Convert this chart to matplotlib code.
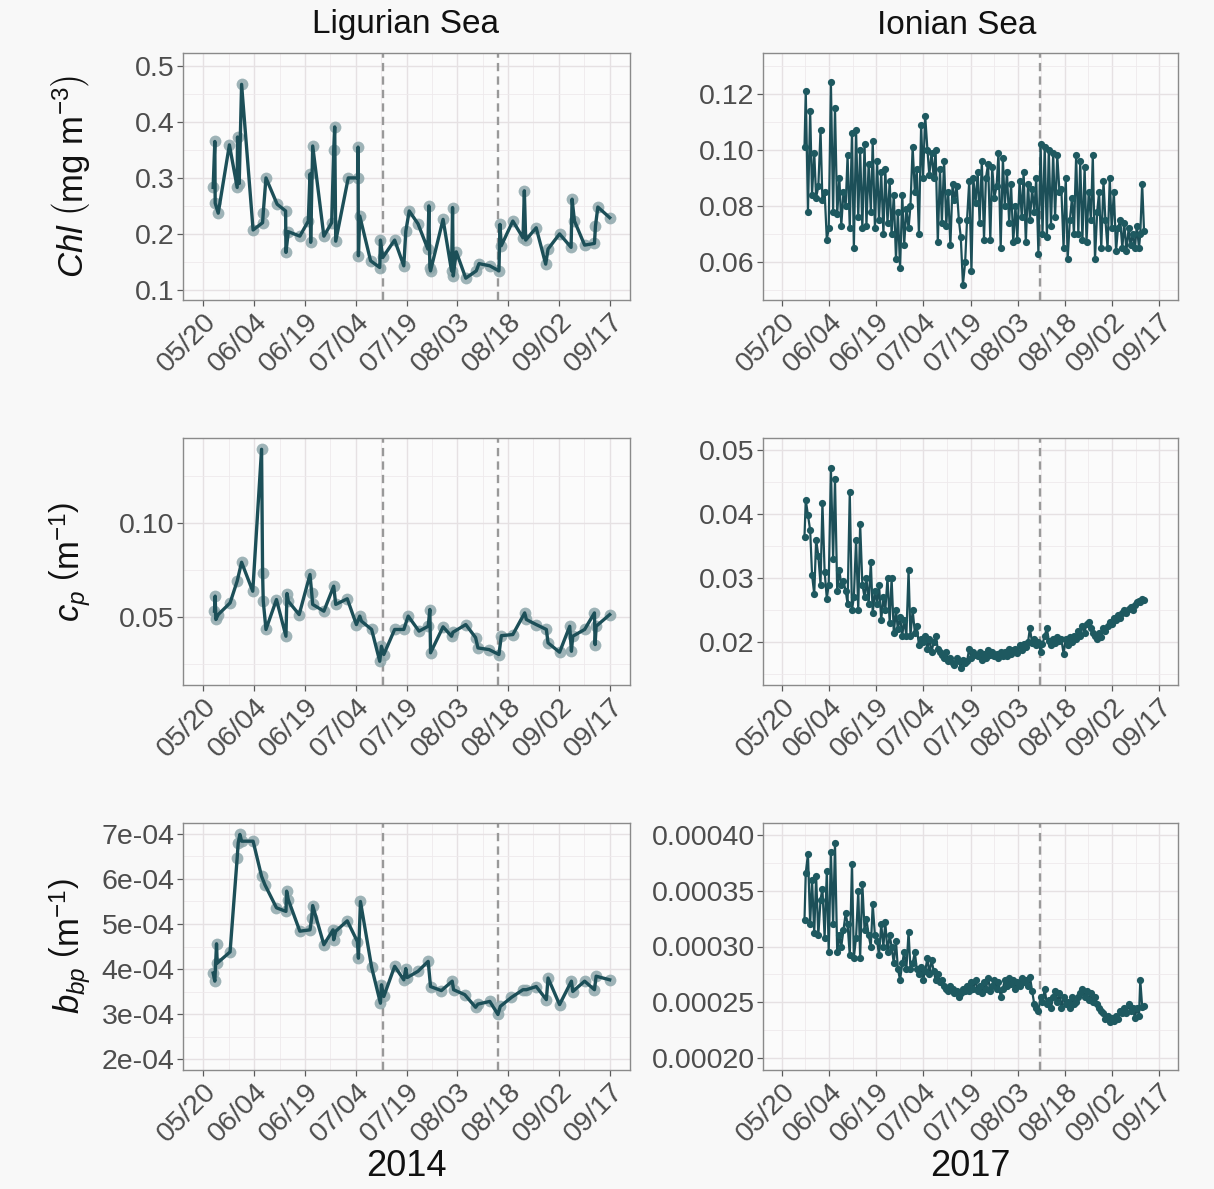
import numpy as np
import matplotlib
matplotlib.use('Agg')
import matplotlib.pyplot as plt

plt.rcParams['font.family'] = ['Liberation Sans', 'DejaVu Sans']
plt.rcParams['mathtext.fontset'] = 'custom'
plt.rcParams['mathtext.rm'] = 'Liberation Sans'
plt.rcParams['mathtext.it'] = 'Liberation Sans:italic'

# x axis: days since 20 May
date_ticks = [0, 15, 30, 45, 60, 75, 90, 105, 120]
date_labels = ['05/20', '06/04', '06/19', '07/04', '07/19', '08/03', '08/18', '09/02', '09/17']

# Ligurian Sea, 2014
lig_events = [53, 87]

chl_lig_day = [2.9, 3.4, 3.5, 4.4, 7.7, 10.0, 10.1, 10.6, 11.3, 14.7,
               17.5, 17.7, 18.5, 21.8, 24.3, 24.4, 25.1, 28.5, 31.0, 31.5,
               31.7, 32.3, 35.6, 37.9, 38.5, 38.8, 39.1, 42.8, 45.6, 45.7,
               45.8, 46.2, 49.4, 52.1, 52.3, 53.0, 56.5, 59.2, 59.8, 60.8,
               63.4, 66.3, 66.6, 66.9, 67.1, 70.8, 73.3, 73.6, 73.8, 74.7,
               77.5, 80.6, 81.4, 84.6, 87.3, 87.6, 88.0, 91.4, 94.4, 94.8,
               95.2, 98.3, 101.1, 101.8, 105.2, 108.6, 108.9, 109.6, 112.6, 115.5,
               115.8, 116.5, 120.0]
chl_lig = [0.283, 0.365, 0.255, 0.237, 0.359, 0.283, 0.373, 0.290, 0.467, 0.207,
           0.220, 0.238, 0.300, 0.253, 0.241, 0.167, 0.204, 0.196, 0.223, 0.307,
           0.185, 0.357, 0.196, 0.220, 0.349, 0.391, 0.187, 0.300, 0.300, 0.355,
           0.161, 0.232, 0.152, 0.140, 0.189, 0.158, 0.189, 0.143, 0.205, 0.241,
           0.218, 0.173, 0.250, 0.140, 0.134, 0.226, 0.134, 0.247, 0.125, 0.168,
           0.121, 0.134, 0.147, 0.143, 0.134, 0.217, 0.179, 0.223, 0.193, 0.277,
           0.189, 0.211, 0.146, 0.173, 0.200, 0.176, 0.262, 0.223, 0.180, 0.183,
           0.214, 0.248, 0.229]

cp_lig_day = [3.3, 3.5, 3.7, 4.4, 7.9, 10.0, 11.3, 14.6, 17.2, 17.5,
              17.7, 18.5, 21.6, 24.4, 24.7, 25.1, 28.3, 31.5, 32.0, 32.3,
              35.6, 38.5, 39.1, 42.5, 45.2, 46.2, 46.7, 49.7, 52.1, 52.6,
              53.3, 56.5, 59.2, 60.5, 63.7, 66.4, 66.9, 67.1, 70.8, 73.3,
              73.7, 77.5, 80.4, 81.1, 84.4, 87.3, 88.0, 91.4, 94.9, 95.4,
              98.3, 101.3, 101.8, 105.2, 108.2, 108.7, 109.1, 112.6, 115.5, 115.7,
              116.0, 120.0]
cp_lig = [0.0530, 0.0610, 0.0486, 0.0512, 0.0574, 0.0690, 0.0790, 0.0636, 0.1390, 0.0734,
          0.0583, 0.0433, 0.0592, 0.0397, 0.0624, 0.0583, 0.0512, 0.0725, 0.0628, 0.0566,
          0.0530, 0.0663, 0.0566, 0.0596, 0.0459, 0.0504, 0.0477, 0.0433, 0.0264, 0.0344,
          0.0300, 0.0433, 0.0433, 0.0504, 0.0424, 0.0450, 0.0539, 0.0309, 0.0447, 0.0397,
          0.0418, 0.0459, 0.0390, 0.0335, 0.0326, 0.0300, 0.0400, 0.0406, 0.0521, 0.0486,
          0.0459, 0.0433, 0.0362, 0.0312, 0.0450, 0.0317, 0.0397, 0.0433, 0.0521, 0.0353,
          0.0450, 0.0512]

bbp_lig_day = [2.9, 3.4, 3.9, 4.1, 7.9, 10.0, 10.3, 10.8, 11.3, 14.7,
               17.2, 18.2, 21.6, 24.4, 24.6, 25.1, 28.5, 31.5, 32.0, 32.3,
               35.6, 38.3, 38.5, 39.1, 42.5, 45.5, 45.8, 46.4, 49.7, 52.3,
               52.6, 53.3, 56.5, 59.2, 59.8, 60.2, 63.4, 66.4, 67.1, 70.3,
               73.5, 73.9, 77.2, 80.4, 81.1, 84.6, 87.0, 87.7, 91.0, 94.4,
               95.4, 98.3, 101.3, 101.8, 105.2, 108.7, 109.1, 112.6, 115.5, 116.0,
               120.0]
# bbp in units of 1e-4 m^-1
bbp_lig = [3.91, 3.73, 4.56, 4.13, 4.38, 6.47, 6.80, 6.99, 6.84, 6.84,
           6.06, 5.87, 5.36, 5.28, 5.73, 5.54, 4.84, 4.87, 5.13, 5.41,
           4.54, 4.87, 4.65, 4.84, 5.07, 4.61, 4.24, 5.50, 4.04, 3.24,
           3.65, 3.39, 4.06, 3.76, 4.01, 3.81, 3.95, 4.17, 3.61, 3.52,
           3.73, 3.54, 3.43, 3.15, 3.22, 3.28, 2.99, 3.17, 3.37, 3.54,
           3.54, 3.61, 3.32, 3.80, 3.21, 3.73, 3.50, 3.73, 3.54, 3.84,
           3.76]

# Ionian Sea, 2017 (one profile time series shared by the three variables)
ion_events = [82]

ion_day = [7.2, 7.6, 8.3, 9.0, 9.6, 10.3, 10.9, 11.6, 12.3, 12.9,
           13.6, 14.3, 14.9, 15.6, 16.3, 16.9, 17.6, 18.3, 18.9, 19.6,
           20.3, 20.9, 21.6, 22.3, 22.9, 23.6, 24.3, 24.9, 25.6, 26.3,
           26.9, 27.6, 28.3, 28.9, 29.6, 30.3, 30.9, 31.6, 32.3, 32.9,
           33.6, 34.3, 34.9, 35.6, 36.3, 36.9, 37.6, 38.3, 38.9, 39.6,
           40.3, 40.9, 41.6, 42.3, 42.9, 43.6, 44.3, 44.9, 45.6, 46.3,
           46.9, 47.6, 48.3, 48.9, 49.6, 50.3, 50.9, 51.6, 52.3, 52.9,
           53.6, 54.3, 54.9, 55.6, 56.3, 56.9, 57.6, 58.3, 58.9, 59.6,
           60.3, 60.9, 61.6, 62.3, 62.9, 63.6, 64.3, 64.9, 65.6, 66.3,
           66.9, 67.6, 68.3, 68.9, 69.6, 70.3, 70.9, 71.6, 72.3, 72.9,
           73.6, 74.3, 74.9, 75.6, 76.3, 76.9, 77.6, 78.3, 78.9, 79.6,
           80.3, 80.9, 81.6, 82.3, 82.9, 83.6, 84.3, 84.9, 85.6, 86.3,
           86.9, 87.6, 88.3, 88.9, 89.6, 90.3, 90.9, 91.6, 92.3, 92.9,
           93.6, 94.3, 94.9, 95.6, 96.3, 96.9, 97.6, 98.3, 98.9, 99.6,
           100.3, 100.9, 101.6, 102.3, 102.9, 103.6, 104.3, 104.9, 105.6, 106.3,
           106.9, 107.6, 108.3, 108.9, 109.6, 110.3, 110.9, 111.6, 112.3, 112.9,
           113.6, 114.0, 114.6, 115.2]

chl_ion = [0.101, 0.121, 0.078, 0.114, 0.084, 0.099, 0.083, 0.087, 0.107, 0.082,
           0.085, 0.068, 0.072, 0.124, 0.078, 0.115, 0.077, 0.090, 0.073, 0.085,
           0.080, 0.098, 0.072, 0.106, 0.065, 0.107, 0.076, 0.100, 0.072, 0.102,
           0.073, 0.095, 0.078, 0.103, 0.072, 0.096, 0.075, 0.092, 0.070, 0.093,
           0.074, 0.089, 0.070, 0.084, 0.061, 0.078, 0.058, 0.084, 0.066, 0.079,
           0.072, 0.080, 0.101, 0.085, 0.093, 0.070, 0.109, 0.090, 0.112, 0.100,
           0.091, 0.099, 0.090, 0.100, 0.067, 0.093, 0.074, 0.096, 0.073, 0.085,
           0.066, 0.088, 0.082, 0.087, 0.075, 0.069, 0.052, 0.060, 0.075, 0.089,
           0.057, 0.090, 0.081, 0.092, 0.074, 0.096, 0.068, 0.090, 0.095, 0.068,
           0.094, 0.083, 0.087, 0.099, 0.065, 0.097, 0.080, 0.092, 0.074, 0.088,
           0.067, 0.080, 0.068, 0.089, 0.076, 0.092, 0.067, 0.088, 0.075, 0.086,
           0.078, 0.090, 0.063, 0.102, 0.070, 0.101, 0.069, 0.100, 0.073, 0.099,
           0.076, 0.098, 0.085, 0.086, 0.065, 0.090, 0.061, 0.075, 0.083, 0.070,
           0.098, 0.070, 0.096, 0.068, 0.094, 0.067, 0.085, 0.075, 0.098, 0.061,
           0.078, 0.085, 0.065, 0.089, 0.075, 0.065, 0.090, 0.072, 0.085, 0.064,
           0.072, 0.075, 0.065, 0.074, 0.064, 0.072, 0.066, 0.070, 0.065, 0.073,
           0.065, 0.070, 0.088, 0.071]

cp_ion = [0.0365, 0.0422, 0.0398, 0.0375, 0.0305, 0.0275, 0.0360, 0.0335, 0.0290, 0.0418,
          0.0310, 0.0268, 0.0290, 0.0472, 0.0330, 0.0455, 0.0280, 0.0312, 0.0290, 0.0295,
          0.0280, 0.0260, 0.0435, 0.0250, 0.0270, 0.0360, 0.0250, 0.0385, 0.0290, 0.0270,
          0.0300, 0.0260, 0.0325, 0.0245, 0.0280, 0.0260, 0.0290, 0.0235, 0.0270, 0.0250,
          0.0300, 0.0230, 0.0300, 0.0215, 0.0250, 0.0220, 0.0240, 0.0210, 0.0235, 0.0210,
          0.0312, 0.0210, 0.0250, 0.0215, 0.0225, 0.0195, 0.0205, 0.0200, 0.0210, 0.0190,
          0.0205, 0.0185, 0.0200, 0.0210, 0.0190, 0.0185, 0.0180, 0.0175, 0.0185, 0.0170,
          0.0175, 0.0168, 0.0165, 0.0175, 0.0170, 0.0160, 0.0172, 0.0168, 0.0170, 0.0190,
          0.0175, 0.0185, 0.0180, 0.0178, 0.0185, 0.0172, 0.0182, 0.0175, 0.0188, 0.0180,
          0.0185, 0.0178, 0.0182, 0.0175, 0.0185, 0.0178, 0.0185, 0.0178, 0.0190, 0.0182,
          0.0187, 0.0190, 0.0183, 0.0195, 0.0188, 0.0197, 0.0192, 0.0200, 0.0222, 0.0198,
          0.0205, 0.0195, 0.0200, 0.0185, 0.0197, 0.0210, 0.0222, 0.0202, 0.0196, 0.0205,
          0.0198, 0.0208, 0.0202, 0.0205, 0.0182, 0.0205, 0.0195, 0.0208, 0.0200, 0.0210,
          0.0205, 0.0218, 0.0210, 0.0225, 0.0215, 0.0228, 0.0232, 0.0222, 0.0215, 0.0210,
          0.0205, 0.0215, 0.0208, 0.0222, 0.0218, 0.0225, 0.0232, 0.0228, 0.0238, 0.0235,
          0.0242, 0.0238, 0.0245, 0.0250, 0.0245, 0.0252, 0.0255, 0.0250, 0.0258, 0.0262,
          0.0265, 0.0262, 0.0268, 0.0266]

# bbp in units of 1e-4 m^-1
bbp_ion = [3.24, 3.66, 3.83, 3.20, 3.60, 3.12, 3.63, 3.10, 3.42, 3.52,
           3.08, 3.68, 2.95, 3.85, 3.20, 3.93, 2.95, 3.10, 3.00, 3.15,
           3.30, 3.20, 2.92, 3.74, 2.90, 3.08, 3.50, 2.90, 3.56, 3.15,
           3.25, 3.10, 3.00, 3.38, 3.10, 3.05, 2.92, 3.20, 3.00, 3.22,
           2.95, 3.10, 3.00, 2.85, 3.05, 2.80, 2.70, 2.85, 2.95, 2.80,
           3.13, 2.80, 2.85, 2.95, 2.80, 2.75, 2.82, 2.70, 2.78, 2.90,
           2.75, 2.88, 2.78, 2.70, 2.75, 2.68, 2.70, 2.65, 2.62, 2.60,
           2.65, 2.62, 2.58, 2.60, 2.55, 2.58, 2.62, 2.60, 2.65, 2.60,
           2.68, 2.62, 2.70, 2.60, 2.65, 2.58, 2.68, 2.62, 2.72, 2.60,
           2.65, 2.70, 2.62, 2.68, 2.55, 2.62, 2.70, 2.65, 2.72, 2.66,
           2.70, 2.62, 2.68, 2.65, 2.72, 2.68, 2.70, 2.65, 2.73, 2.60,
           2.48, 2.45, 2.42, 2.55, 2.50, 2.62, 2.48, 2.52, 2.45, 2.55,
           2.60, 2.50, 2.58, 2.45, 2.55, 2.48, 2.50, 2.45, 2.55, 2.48,
           2.50, 2.55, 2.58, 2.62, 2.55, 2.60, 2.52, 2.58, 2.50, 2.55,
           2.48, 2.45, 2.42, 2.40, 2.35, 2.38, 2.32, 2.36, 2.33, 2.38,
           2.35, 2.42, 2.40, 2.45, 2.40, 2.48, 2.42, 2.45, 2.36, 2.45,
           2.38, 2.70, 2.46, 2.47]

# y axes: limits, ticks and tick labels per panel
chl_lig_lim, chl_lig_ticks = (0.082, 0.523), [0.1, 0.2, 0.3, 0.4, 0.5]
chl_lig_labels = ['0.1', '0.2', '0.3', '0.4', '0.5']
chl_ion_lim, chl_ion_ticks = (0.0465, 0.1345), [0.06, 0.08, 0.10, 0.12]
chl_ion_labels = ['0.06', '0.08', '0.10', '0.12']
cp_lig_lim, cp_lig_ticks = (0.0138, 0.145), [0.05, 0.10]
cp_lig_labels = ['0.05', '0.10']
cp_ion_lim, cp_ion_ticks = (0.0133, 0.0519), [0.02, 0.03, 0.04, 0.05]
cp_ion_labels = ['0.02', '0.03', '0.04', '0.05']
bbp_lig_lim, bbp_lig_ticks = (1.756e-4, 7.244e-4), [2e-4, 3e-4, 4e-4, 5e-4, 6e-4, 7e-4]
bbp_lig_labels = ['2e-04', '3e-04', '4e-04', '5e-04', '6e-04', '7e-04']
bbp_ion_lim, bbp_ion_ticks = (1.892e-4, 4.108e-4), [2e-4, 2.5e-4, 3e-4, 3.5e-4, 4e-4]
bbp_ion_labels = ['0.00020', '0.00025', '0.00030', '0.00035', '0.00040']

LINE = '#1c4f58'
HALO = '#8ea7ab'
DOT = '#1e5960'
TICK_TXT = '#4d4d4d'


def style_axes(ax, ylim, yticks, ylabels):
    ax.set_facecolor('#fbfbfb')
    ax.set_xlim(-6, 126)
    ax.set_ylim(*ylim)
    ax.set_xticks(date_ticks)
    ax.set_xticklabels(date_labels, rotation=45, ha='right', va='top',
                       rotation_mode='anchor')
    ax.set_xticks([d + 7.5 for d in date_ticks[:-1]], minor=True)
    ax.set_yticks(yticks)
    ax.set_yticklabels(ylabels)
    step = yticks[1] - yticks[0]
    minor = [yticks[0] - step / 2] + [t + step / 2 for t in yticks]
    ax.set_yticks([m for m in minor if ylim[0] < m < ylim[1]], minor=True)
    ax.grid(which='major', color='#e6e1e3', lw=1.0)
    ax.grid(which='minor', color='#eeeaec', lw=0.6)
    ax.set_axisbelow(True)
    ax.tick_params(which='major', length=4, width=0.9, color='#5a5a5a',
                   labelsize=20.5, labelcolor=TICK_TXT, pad=2)
    ax.tick_params(which='minor', length=0)
    for s in ax.spines.values():
        s.set_color('#8a8a8a')
        s.set_linewidth(1.0)


def ligurian(ax, day, val):
    ax.plot(day, val, 'o', ms=8.5, color=HALO, alpha=0.85, mec='none', zorder=2)
    ax.plot(day, val, '-', lw=2.4, color=LINE, zorder=3)
    for d in lig_events:
        ax.axvline(d, color='#999999', lw=1.7, ls=(0, (3.5, 2.2)), zorder=1.5)


def ionian(ax, day, val):
    ax.plot(day, val, '-', lw=1.6, color=LINE, zorder=3)
    ax.plot(day, val, 'o', ms=5.2, color=DOT, mec='none', zorder=4)
    for d in ion_events:
        ax.axvline(d, color='#999999', lw=1.7, ls=(0, (3.5, 2.2)), zorder=1.5)


fig = plt.figure(figsize=(12.14, 11.89), dpi=100, facecolor='#f8f8f8')

W, H = 1214, 1189
rows = [(53, 300), (438, 685), (823, 1070)]
left_cols = (183, 630)
right_cols = (763, 1178)


def add_ax(cols, row):
    return fig.add_axes([cols[0] / W, 1 - row[1] / H,
                         (cols[1] - cols[0]) / W, (row[1] - row[0]) / H])


ax = add_ax(left_cols, rows[0])
style_axes(ax, chl_lig_lim, chl_lig_ticks, chl_lig_labels)
ligurian(ax, chl_lig_day, chl_lig)

ax = add_ax(right_cols, rows[0])
style_axes(ax, chl_ion_lim, chl_ion_ticks, chl_ion_labels)
ionian(ax, ion_day, chl_ion)

ax = add_ax(left_cols, rows[1])
style_axes(ax, cp_lig_lim, cp_lig_ticks, cp_lig_labels)
ligurian(ax, cp_lig_day, cp_lig)

ax = add_ax(right_cols, rows[1])
style_axes(ax, cp_ion_lim, cp_ion_ticks, cp_ion_labels)
ionian(ax, ion_day, cp_ion)

ax = add_ax(left_cols, rows[2])
style_axes(ax, bbp_lig_lim, bbp_lig_ticks, bbp_lig_labels)
ligurian(ax, bbp_lig_day, np.array(bbp_lig) * 1e-4)

ax = add_ax(right_cols, rows[2])
style_axes(ax, bbp_ion_lim, bbp_ion_ticks, bbp_ion_labels)
ionian(ax, ion_day, np.array(bbp_ion) * 1e-4)

# column headers, year labels and y-axis titles
fig.text(406 / W, 1 - 24 / H, 'Ligurian Sea', ha='center', va='center',
         fontsize=24, color='#111111')
fig.text(957 / W, 1 - 26 / H, 'Ionian Sea', ha='center', va='center',
         fontsize=24, color='#111111')
fig.text(406 / W, 1 - 1166 / H, '2014', ha='center', va='center',
         fontsize=26, color='#111111')
fig.text(970 / W, 1 - 1166 / H, '2017', ha='center', va='center',
         fontsize=26, color='#111111')

ylabels = [r'$\mathit{Chl}\ \left(\mathrm{mg\ m^{-3}}\right)$',
           r'$\mathit{c_p}\ \left(\mathrm{m^{-1}}\right)$',
           r'$\mathit{b_{bp}}\ \left(\mathrm{m^{-1}}\right)$']
for lab, row in zip(ylabels, rows):
    fig.text(70 / W, 1 - (row[0] + row[1]) / 2 / H, lab, rotation=90,
             ha='center', va='center', fontsize=25, color='#111111')

fig.savefig('out.png', dpi=100, facecolor=fig.get_facecolor())
